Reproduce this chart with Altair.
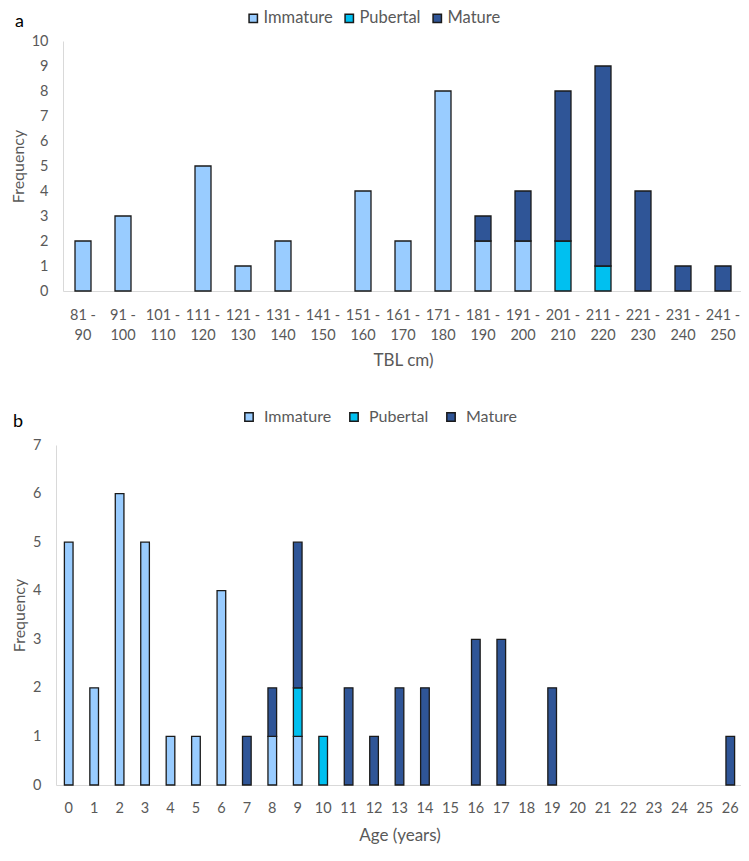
import altair as alt
import pandas as pd

stages = ["Immature", "Pubertal", "Mature"]
stage_colors = ["#99CCFF", "#00C0F0", "#2F5597"]

tbl_classes = ["81 - 90", "91 - 100", "101 - 110", "111 - 120", "121 - 130",
               "131 - 140", "141 - 150", "151 - 160", "161 - 170", "171 - 180",
               "181 - 190", "191 - 200", "201 - 210", "211 - 220", "221 - 230",
               "231 - 240", "241 - 250"]
tbl_immature = [2, 3, 0, 5, 1, 2, 0, 4, 2, 8, 2, 2, 0, 0, 0, 0, 0]
tbl_pubertal = [0, 0, 0, 0, 0, 0, 0, 0, 0, 0, 0, 0, 2, 1, 0, 0, 0]
tbl_mature = [0, 0, 0, 0, 0, 0, 0, 0, 0, 0, 1, 2, 6, 8, 4, 1, 1]

ages = [str(i) for i in range(27)]
age_immature = [5, 2, 6, 5, 1, 1, 4, 0, 1, 1, 0, 0, 0, 0, 0, 0, 0, 0, 0, 0, 0, 0, 0, 0, 0, 0, 0]
age_pubertal = [0, 0, 0, 0, 0, 0, 0, 0, 0, 1, 1, 0, 0, 0, 0, 0, 0, 0, 0, 0, 0, 0, 0, 0, 0, 0, 0]
age_mature = [0, 0, 0, 0, 0, 0, 0, 1, 1, 3, 0, 2, 1, 2, 2, 0, 3, 3, 0, 2, 0, 0, 0, 0, 0, 0, 1]

FONT = "Lato"
GREY = "#595959"


def long_table(cats, series):
    rows = []
    for k, (stage, vals) in enumerate(zip(stages, series)):
        for c, v in zip(cats, vals):
            if v > 0:
                rows.append({"cat": c, "stage": stage, "count": v, "ord": k})
    return pd.DataFrame(rows)


def panel(df, cats, letter, xtitle, ymax, w, h, pad_inner, label_expr, x_range, y_offset,
          leg_x, leg_y, leg_font, lab_off, col_pad, letter_x, letter_y, label_pad,
          title_pad_x):
    x_axis_kw = dict(title=xtitle, labelAngle=0, ticks=False, domainColor="#D9D9D9",
                     domainWidth=1, labelFont=FONT, labelFontSize=14.5, labelColor=GREY,
                     labelPadding=label_pad, titleFont=FONT, titleFontSize=17,
                     titleColor=GREY, titleFontWeight="normal", titlePadding=title_pad_x,
                     labelLineHeight=20)
    if label_expr:
        x_axis_kw["labelExpr"] = label_expr
    x_scale_kw = dict(domain=cats, paddingInner=pad_inner, paddingOuter=pad_inner / 2)
    if x_range:
        x_scale_kw["range"] = x_range
    y_axis_kw = dict(title="Frequency", values=list(range(ymax + 1)),
                     grid=False, ticks=False, domainColor="#D9D9D9",
                     labelFont=FONT, labelFontSize=14.5, labelColor=GREY,
                     labelPadding=15, titleFont=FONT, titleFontSize=16,
                     titleColor=GREY, titleFontWeight="normal", titlePadding=5)
    if y_offset:
        y_axis_kw["offset"] = y_offset
    bars = alt.Chart(df).mark_bar(stroke="#1a1a1a", strokeWidth=1.3).encode(
        x=alt.X("cat:N", sort=cats, scale=alt.Scale(**x_scale_kw),
                axis=alt.Axis(**x_axis_kw)),
        y=alt.Y("count:Q", stack="zero",
                scale=alt.Scale(domain=[0, ymax], nice=False),
                axis=alt.Axis(**y_axis_kw)),
        color=alt.Color("stage:N",
                        scale=alt.Scale(domain=stages, range=stage_colors),
                        legend=alt.Legend(orient="none", legendX=leg_x, legendY=leg_y,
                                          direction="horizontal", title=None,
                                          padding=0,
                                          symbolType="square", symbolSize=70,
                                          symbolStrokeColor="#1a1a1a",
                                          symbolStrokeWidth=1.5,
                                          labelFont=FONT, labelFontSize=leg_font,
                                          labelColor=GREY, labelOffset=lab_off,
                                          columnPadding=col_pad)),
        order=alt.Order("ord:Q"),
    )
    tag = alt.Chart(pd.DataFrame({"t": [letter]})).mark_text(
        align="left", baseline="middle", font=FONT, fontSize=18, color="black"
    ).encode(x=alt.value(letter_x), y=alt.value(letter_y), text="t:N")
    return alt.layer(bars, tag).properties(width=w, height=h)


df_a = long_table(tbl_classes, [tbl_immature, tbl_pubertal, tbl_mature])
df_b = long_table(ages, [age_immature, age_pubertal, age_mature])

chart_a = panel(df_a, tbl_classes, "a", "TBL cm)", 10, 680, 250, 0.6,
                "split(replace(datum.label, '- ', '-|'), '|')", None, 0,
                182, -31, 16.5, 2, 8, -48, -19, 17, 10.5)
chart_b = panel(df_b, ages, "b", "Age (years)", 7, 680, 340, 0.66, None, [-7, 680], 7,
                178, -36, 16, 7, 14, -50, -23, 16, 13)

chart = alt.vconcat(chart_a, chart_b, spacing=41).resolve_scale(
    color="independent"
).properties(padding={"left": 2, "top": 2, "right": -9, "bottom": 0}).configure_view(stroke=None)

chart.save("out.html", embed_options={"renderer": "svg", "actions": False})
